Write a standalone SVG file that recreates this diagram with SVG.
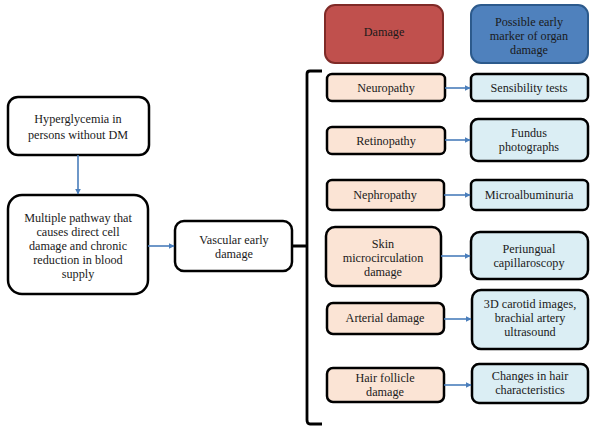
<svg xmlns="http://www.w3.org/2000/svg" width="602" height="436" viewBox="0 0 602 436" font-family="'Liberation Serif', 'Times New Roman', Tinos, 'DejaVu Serif', serif">
<defs>
<style>
.b{fill:#fff;stroke:#000;stroke-width:2.5}
.d{fill:#fbe4d5;stroke:#000;stroke-width:2.5}
.m{fill:#dbeef4;stroke:#000;stroke-width:2.5}
text{font-family:'Liberation Serif','Times New Roman',Tinos,'DejaVu Serif',serif;font-size:12.2px;fill:#1a1a1a;text-anchor:middle}
.c{stroke:#4a7ebb;stroke-width:1.6;fill:none;marker-end:url(#a)}
</style>
<marker id="a" viewBox="0 0 10 10" refX="9" refY="5" markerWidth="6" markerHeight="6" orient="auto" markerUnits="userSpaceOnUse"><path d="M0,0 L10,5 L0,10 z" fill="#4a7ebb"/></marker>
</defs>
<rect width="602" height="436" fill="#fff"/>
<g id="hdr-damage"><rect x="325" y="5" width="118" height="58" rx="10" fill="#c0504d" stroke="#7f2a27" stroke-width="2"/><text x="384" y="36">Damage</text></g>
<g id="hdr-marker"><rect x="471" y="5" width="117" height="58" rx="10" fill="#4f81bd" stroke="#2c5a8c" stroke-width="2"/><text x="529" y="26">Possible early</text><text x="529" y="40">marker of organ</text><text x="529" y="54">damage</text></g>
<g id="hyper"><rect class="b" x="8" y="97" width="141" height="58" rx="10"/><text x="78" y="123">Hyperglycemia in</text><text x="78" y="139">persons without DM</text></g>
<g id="pathway"><rect class="b" x="8" y="195" width="140" height="99" rx="14"/><text x="78" y="222">Multiple pathway that</text><text x="78" y="236">causes direct cell</text><text x="78" y="250">damage and chronic</text><text x="78" y="264">reduction in blood</text><text x="78" y="278">supply</text></g>
<g id="vascular"><rect class="b" x="175" y="221" width="117" height="50" rx="9"/><text x="234" y="244">Vascular early</text><text x="234" y="258">damage</text></g>
<g id="neuro"><rect class="d" x="327" y="74" width="118" height="27" rx="5"/><text x="386" y="92">Neuropathy</text></g>
<g id="sens"><rect class="m" x="471" y="74" width="117" height="27" rx="5"/><text x="529" y="92">Sensibility tests</text></g>
<g id="retino"><rect class="d" x="327" y="127" width="118" height="27" rx="5"/><text x="386" y="145">Retinopathy</text></g>
<g id="fundus"><rect class="m" x="471" y="119" width="117" height="42" rx="7"/><text x="529" y="137">Fundus</text><text x="529" y="151">photographs</text></g>
<g id="nephro"><rect class="d" x="327" y="180" width="117" height="30" rx="5"/><text x="385" y="199">Nephropathy</text></g>
<g id="micro"><rect class="m" x="471" y="180" width="117" height="30" rx="5"/><text x="529" y="199">Microalbuminuria</text></g>
<g id="skin"><rect class="d" x="326" y="227" width="115" height="59" rx="9"/><text x="383" y="248">Skin</text><text x="383" y="262">microcirculation</text><text x="383" y="276">damage</text></g>
<g id="periungual"><rect class="m" x="471" y="232" width="117" height="47" rx="9"/><text x="529" y="253">Periungual</text><text x="529" y="267">capillaroscopy</text></g>
<g id="arterial"><rect class="d" x="327" y="303" width="117" height="31" rx="6"/><text x="385" y="322">Arterial damage</text></g>
<g id="carotid"><rect class="m" x="472" y="290" width="116" height="59" rx="9"/><text x="530" y="308">3D carotid images,</text><text x="530" y="322">brachial artery</text><text x="530" y="336">ultrasound</text></g>
<g id="hair"><rect class="d" x="327" y="368" width="117" height="34" rx="6"/><text x="385" y="382">Hair follicle</text><text x="385" y="396">damage</text></g>
<g id="hairchg"><rect class="m" x="472" y="364" width="116" height="39" rx="7"/><text x="530" y="380">Changes in hair</text><text x="530" y="394">characteristics</text></g>
<g id="connectors">
<path class="c" d="M78,155 V194"/>
<path class="c" d="M148,246 H174"/>
<path d="M292,246 H307 M322,71 H310 Q307,71 307,74 V420 Q307,424 310,424 H322" stroke="#000" stroke-width="2.8" fill="none"/>
<path class="c" d="M445,88 H470"/>
<path class="c" d="M445,140 H470"/>
<path class="c" d="M444,195 H470"/>
<path class="c" d="M441,256 H470"/>
<path class="c" d="M444,319 H471"/>
<path class="c" d="M444,385 H471"/>
</g>
</svg>
